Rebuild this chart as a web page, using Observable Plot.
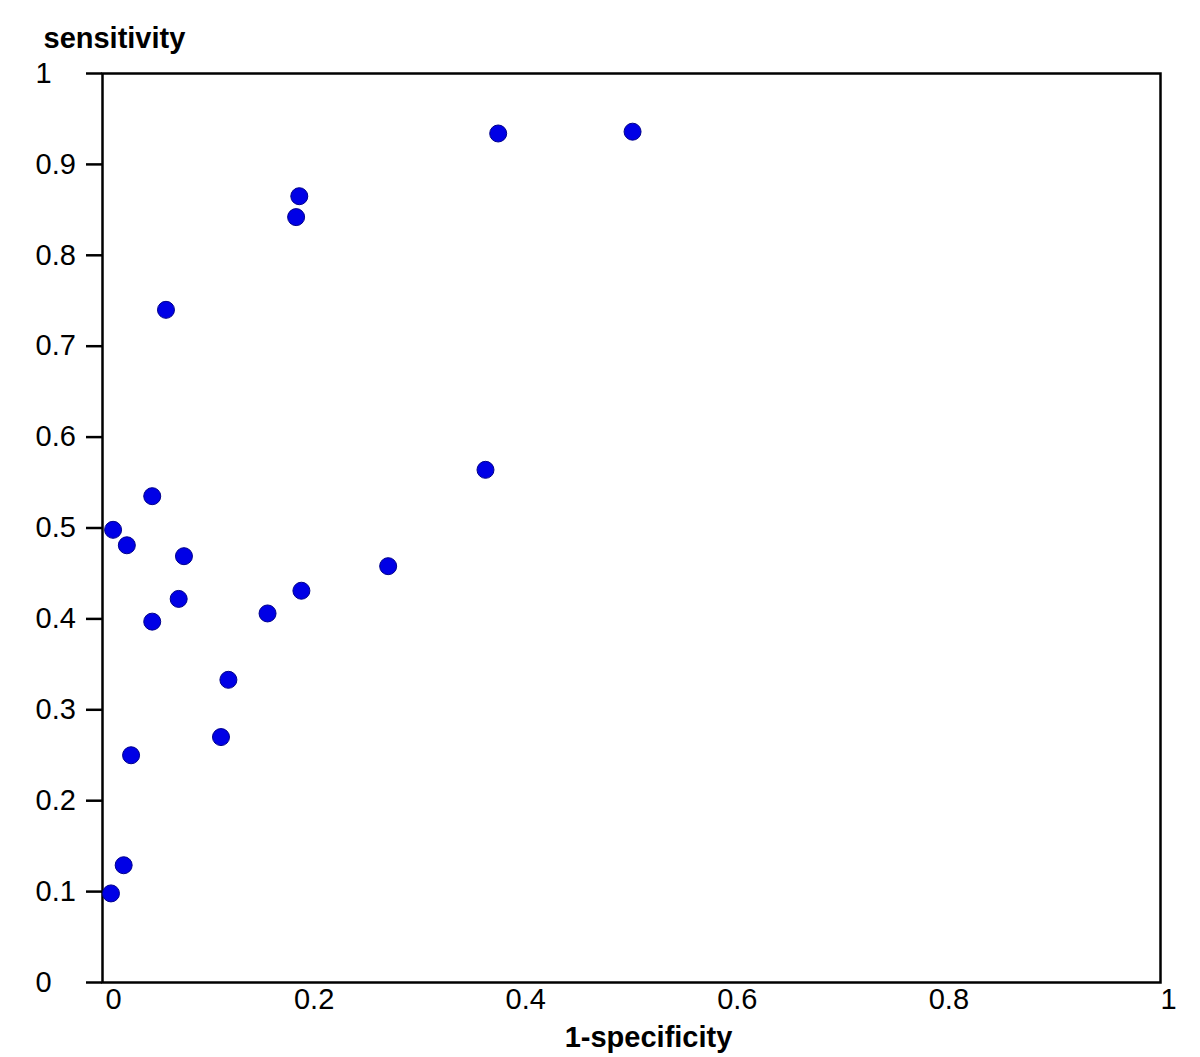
<!DOCTYPE html>
<html>
<head>
<meta charset="utf-8">
<script src="https://cdn.jsdelivr.net/npm/d3@7"></script>
<script src="https://cdn.jsdelivr.net/npm/@observablehq/plot@0.6"></script>
<style>
  html, body { margin: 0; padding: 0; background: white; }
</style>
</head>
<body>
<div id="chart"></div>
<script>
// 1-specificity (false positive rate) and sensitivity for each study
const fpr = [0.008, 0.020, 0.027, 0.010, 0.023, 0.047, 0.047, 0.072, 0.077, 0.060,
             0.119, 0.112, 0.156, 0.188, 0.183, 0.186, 0.270, 0.362, 0.374, 0.501];
const sens = [0.098, 0.129, 0.250, 0.498, 0.481, 0.535, 0.397, 0.422, 0.469, 0.740,
              0.333, 0.270, 0.406, 0.431, 0.842, 0.865, 0.458, 0.564, 0.934, 0.936];
const xTicks = [0, 0.2, 0.4, 0.6, 0.8, 1];
const yTicks = [0, 0.1, 0.2, 0.3, 0.4, 0.5, 0.6, 0.7, 0.8, 0.9, 1];
const xTitle = "1-specificity";
const yTitle = "sensitivity";

const data = fpr.map((x, i) => ({x, y: sens[i]}));
const fmt = d => String(d);
const inner = xTicks.filter(t => t > 0 && t < 1);

const chart = Plot.plot({
  width: 1200,
  height: 1057,
  marginLeft: 102,
  marginRight: 40,
  marginTop: 73,
  marginBottom: 75,
  x: {domain: [0, 1]},
  y: {domain: [0, 1]},
  style: {fontFamily: "'Liberation Sans', Arial, sans-serif", fontSize: "29px", color: "black", background: "white"},
  marks: [
    Plot.frame({stroke: "black", strokeWidth: 2.5}),
    Plot.axisY({ticks: yTicks, tickSize: 16, tickPadding: 51, textAnchor: "start", tickFormat: fmt, label: null, strokeWidth: 2.5}),
    Plot.axisX({ticks: inner, tickSize: 0, tickPadding: 6, tickFormat: fmt, label: null}),
    Plot.axisX({ticks: xTicks.filter(t => t === 0), tickSize: 0, tickPadding: 6, tickFormat: fmt, label: null, dx: 11}),
    Plot.axisX({ticks: xTicks.filter(t => t === 1), tickSize: 0, tickPadding: 6, tickFormat: fmt, label: null, dx: 8}),
    Plot.dot(data, {x: "x", y: "y", r: 8.5, fill: "#0000e6", stroke: "#00008b", strokeWidth: 1}),
    Plot.text([yTitle], {frameAnchor: "top-left", text: d => d, dx: -59, dy: -46, textAnchor: "start", fontWeight: "bold"}),
    Plot.text([xTitle], {frameAnchor: "bottom", text: d => d, dx: 17, dy: 64, fontWeight: "bold"})
  ]
});
document.getElementById("chart").append(chart);
</script>
</body>
</html>
